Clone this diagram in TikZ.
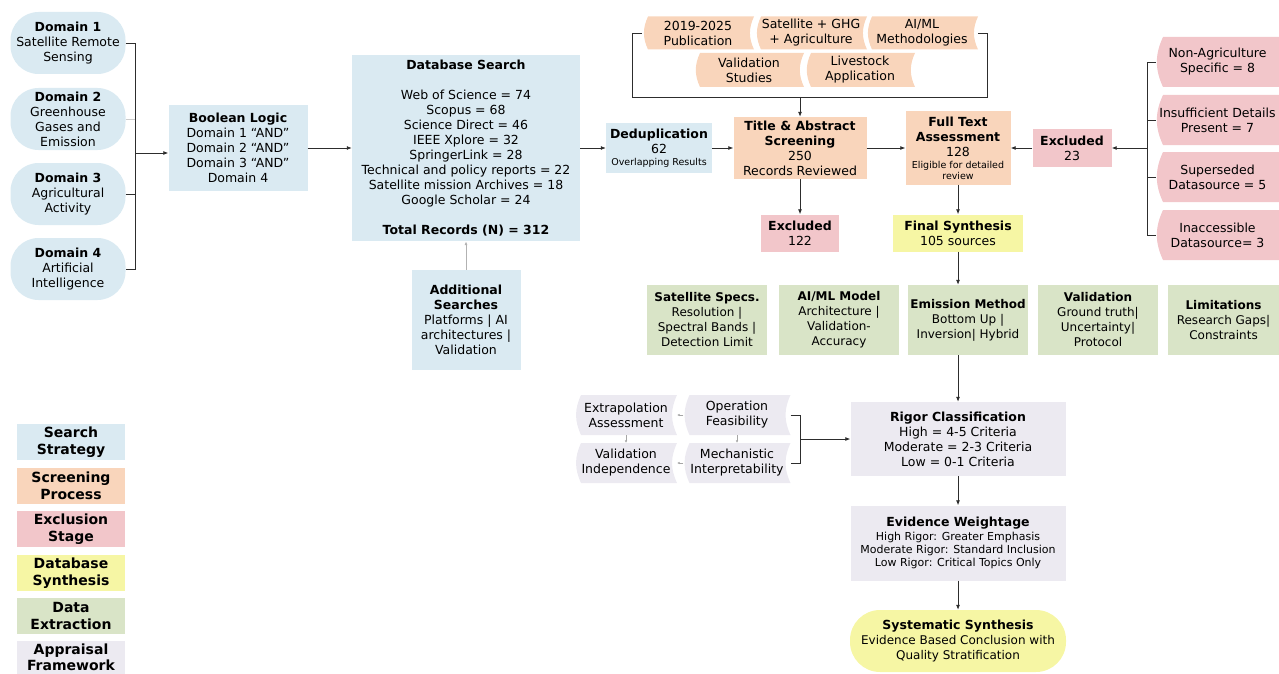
\documentclass[tikz,border=0pt]{standalone}
\usepackage{fontspec}
\setmainfont{DejaVu Sans}
\usetikzlibrary{arrows.meta,positioning,calc}

\definecolor{searchblue}{RGB}{218,234,242}
\definecolor{screenpeach}{RGB}{249,213,187}
\definecolor{exclpink}{RGB}{242,198,202}
\definecolor{synthyellow}{RGB}{246,246,164}
\definecolor{extractgreen}{RGB}{217,228,199}
\definecolor{appraisalgray}{RGB}{236,234,241}
\definecolor{linegray}{RGB}{45,45,45}

\newcommand{\fbody}{\fontsize{12.5}{15}\selectfont}
\newcommand{\fsmall}{\fontsize{9.5}{11}\selectfont}
\newcommand{\fmid}{\fontsize{11}{13}\selectfont}
\newcommand{\fgreen}{\fontsize{12}{15}\selectfont}
\newcommand{\flegend}{\fontsize{14}{16.5}\selectfont\bfseries}

\tikzset{
	box/.style={rectangle, align=center, inner sep=1pt, font=\fbody},
	domainbox/.style={box, fill=searchblue, rounded corners=28pt, minimum width=115pt, minimum height=62pt},
	legendbox/.style={box, font=\flegend, minimum width=108pt, minimum height=36pt},
	greenbox/.style={box, fill=extractgreen, font=\fgreen, minimum width=120pt, minimum height=70pt},
	flow/.style={draw=linegray, line width=0.8pt},
	flowarrow/.style={flow, -{Latex[length=5pt,width=4pt]}},
	tinyarrow/.style={draw=gray!70, line width=0.5pt, -{Latex[length=2.5pt,width=2.5pt]}},
	% curved tape shapes
	tapebox/.style={box, path picture={
		\fill[#1] ([xshift=6pt]path picture bounding box.north west)
		to[bend right=25] ([xshift=6pt]path picture bounding box.south west)
		-- (path picture bounding box.south east)
		to[bend left=25] (path picture bounding box.north east) -- cycle;}},
	tapecut/.style={box, path picture={
		\fill[#1] ([xshift=7pt]path picture bounding box.north west)
		to[bend right=25] ([xshift=7pt]path picture bounding box.south west)
		-- (path picture bounding box.south east)
		-- (path picture bounding box.north east) -- cycle;}}
}

\begin{document}
\begin{tikzpicture}[x=1pt, y=-1pt]
	\useasboundingbox (0,0) rectangle (1279,674);
	
	% search domains
	\node[domainbox] (d1) at (68,43) {\textbf{Domain 1}\\Satellite Remote\\Sensing};
	\node[domainbox] (d2) at (68,119) {\textbf{Domain 2}\\Greenhouse\\Gases and\\Emission};
	\node[domainbox] (d3) at (68,194) {\textbf{Domain 3}\\Agricultural\\Activity};
	\node[domainbox] (d4) at (68,269) {\textbf{Domain 4}\\Artificial\\Intelligence};
	
	\node[box, fill=searchblue, minimum width=139pt, minimum height=86pt] (bool) at (238,148)
		{\textbf{Boolean Logic}\\Domain 1 “AND”\\Domain 2 “AND”\\Domain 3 “AND”\\Domain 4};
	
	\coordinate (join) at (135,153);
	\draw[flow] (d1.east) -| (join |- d4.east) -- (d4.east);
	\draw[flow] (d3.east) -- (join |- d3.east);
	\draw[draw=gray!40, line width=0.8pt] (d2.east) -- (join |- d2.east);
	\draw[flowarrow] (join) -- (join -| bool.west);
	
	% database search
	\node[box, fill=searchblue, minimum width=228pt, minimum height=186pt] (dbs) at (466,148)
		{\textbf{Database Search}\\[15pt]
		Web of Science = 74\\Scopus = 68\\Science Direct = 46\\IEEE Xplore = 32\\SpringerLink = 28\\
		Technical and policy reports = 22\\Satellite mission Archives = 18\\Google Scholar = 24\\[15pt]
		\textbf{Total Records (N) = 312}};
	\node[box, fill=searchblue, minimum width=109pt, minimum height=100pt] (addl) at (466,320)
		{\textbf{Additional}\\\textbf{Searches}\\Platforms | AI\\architectures |\\Validation};
	
	\draw[flowarrow] (bool.east) -- (dbs.west);
	\draw[draw=gray!60, line width=0.8pt, -{Latex[length=4pt,width=3pt]}] (addl.north) -- (dbs.south);
	
	% screening
	\node[box, fill=searchblue, minimum width=106pt, minimum height=50pt] (dedup) at (659,148)
		{\textbf{Deduplication}\\62\\[-3pt]{\fsmall Overlapping Results}};
	\node[box, fill=screenpeach, minimum width=133pt, minimum height=62pt] (ta) at (800,148)
		{\textbf{Title \& Abstract}\\\textbf{Screening}\\250\\Records Reviewed};
	\node[box, fill=screenpeach, minimum width=105pt, minimum height=73pt] (ft) at (958,148)
		{\textbf{Full Text}\\\textbf{Assessment}\\128\\[-3pt]{\fsmall Eligible for detailed}\\[-4pt]{\fsmall review}};
	
	\draw[flowarrow] (dbs.east) -- (dedup.west);
	\draw[flowarrow] (dedup.east) -- (ta.west);
	\draw[flowarrow] (ta.east) -- (ft.west);
	
	% screening criteria
	\node[tapebox=screenpeach, minimum width=112pt, minimum height=33pt] (t1) at (698,33) {2019-2025\\Publication};
	\node[tapebox=screenpeach, minimum width=112pt, minimum height=33pt] (t2) at (811,33) {Satellite + GHG\\+ Agriculture};
	\node[tapebox=screenpeach, minimum width=112pt, minimum height=33pt] (t3) at (922,33) {AI/ML\\Methodologies};
	\node[tapebox=screenpeach, minimum width=110pt, minimum height=34pt] (t4) at (749,70) {Validation\\Studies};
	\node[tapebox=screenpeach, minimum width=110pt, minimum height=34pt] (t5) at (860,70) {Livestock\\Application};
	
	\coordinate (tl) at (632,97);
	\coordinate (tr) at (987,97);
	\draw[flow] (t1.west) -| (tl) -- (tr) |- (t3.east);
	\draw[flowarrow] (ta.north |- tl) -- (ta.north);
	
	% exclusions
	\node[box, fill=exclpink, minimum width=78pt, minimum height=37pt] (excl122) at (800,233) {\textbf{Excluded}\\122};
	\node[box, fill=exclpink, minimum width=79pt, minimum height=37pt] (excl23) at (1072,148) {\textbf{Excluded}\\23};
	\node[box, fill=synthyellow, minimum width=130pt, minimum height=37pt] (fs) at (958,233) {\textbf{Final Synthesis}\\105 sources};
	
	\draw[flowarrow] (ta.south) -- (excl122.north);
	\draw[flowarrow] (ft.south) -- (fs.north);
	\draw[flowarrow] (excl23.west) -- (ft.east);
	
	\node[tapecut=exclpink, minimum width=123pt, minimum height=50pt] (r1) at (1217.5,62) {Non-Agriculture\\Specific = 8};
	\node[tapecut=exclpink, minimum width=123pt, minimum height=50pt] (r2) at (1217.5,120) {Insufficient Details\\Present = 7};
	\node[tapecut=exclpink, minimum width=123pt, minimum height=50pt] (r3) at (1217.5,177) {Superseded\\Datasource = 5};
	\node[tapecut=exclpink, minimum width=123pt, minimum height=50pt] (r4) at (1217.5,235) {Inaccessible\\Datasource= 3};
	
	\coordinate (rj) at (1147,148);
	\draw[flow] (r1.west) -- (rj |- r1.west) -- (rj |- r4.west) -- (r4.west);
	\draw[flow] (r2.west) -- (rj |- r2.west);
	\draw[flow] (r3.west) -- (rj |- r3.west);
	\draw[flowarrow] (rj) -- (excl23.east);
	
	% data extraction
	\node[greenbox] (g1) at (707,320) {\textbf{Satellite Specs.}\\Resolution |\\Spectral Bands |\\Detection Limit};
	\node[greenbox] (g2) at (839,320) {\textbf{AI/ML Model}\\Architecture |\\Validation-\\Accuracy};
	\node[greenbox] (g3) at (968,320) {\textbf{Emission Method}\\Bottom Up |\\Inversion| Hybrid};
	\node[greenbox] (g4) at (1098,320) {\textbf{Validation}\\Ground truth|\\Uncertainty|\\Protocol};
	\node[greenbox, minimum width=111pt] (g5) at (1223.5,320) {\textbf{Limitations}\\Research Gaps|\\Constraints};
	
	\draw[flowarrow] (fs.south) -- (fs.south |- g3.north);
	
	% appraisal
	\node[box, fill=appraisalgray, minimum width=215pt, minimum height=74pt] (rig) at (958,439)
		{\textbf{Rigor Classification}\\High = 4-5 Criteria\\Moderate = 2-3 Criteria\\Low = 0-1 Criteria};
	\node[box, fill=appraisalgray, minimum width=215pt, minimum height=75pt] (evw) at (958,543)
		{\textbf{Evidence Weightage}\\[-1pt]{\fmid High Rigor: Greater Emphasis}\\[-2pt]{\fmid Moderate Rigor: Standard Inclusion}\\[-2pt]{\fmid Low Rigor: Critical Topics Only}};
	\node[box, fill=synthyellow, rounded corners=30pt, minimum width=216pt, minimum height=62pt] (sys) at (958,641)
		{\textbf{Systematic Synthesis}\\{\fontsize{12}{15}\selectfont Evidence Based Conclusion with}\\{\fontsize{12}{15}\selectfont Quality Stratification}};
	
	\draw[flowarrow] (g3.south -| rig.north) -- (rig.north);
	\draw[flowarrow] (rig.south) -- (evw.north);
	\draw[flowarrow] (evw.south) -- (sys.north);
	
	\node[tapebox=appraisalgray, minimum width=102pt, minimum height=40pt] (a1) at (626,415) {Extrapolation\\Assessment};
	\node[tapebox=appraisalgray, minimum width=107pt, minimum height=40pt] (a2) at (737,415) {Operation\\Feasibility};
	\node[tapebox=appraisalgray, minimum width=102pt, minimum height=40pt] (a3) at (626,463) {Validation\\Independence};
	\node[tapebox=appraisalgray, minimum width=107pt, minimum height=40pt] (a4) at (737,463) {Mechanistic\\Interpretability};
	
	\draw[tinyarrow] (a2.west) -- (a1.east);
	\draw[tinyarrow] (a4.west) -- (a3.east);
	\draw[tinyarrow] (a1.south) -- (a3.north);
	\draw[tinyarrow] (a2.south) -- (a4.north);
	
	\coordinate (aj) at (800,439);
	\draw[flow] (a2.east) -| (aj) |- (a4.east);
	\draw[flowarrow] (aj) -- (rig.west);
	
	% legend
	\node[legendbox, fill=searchblue] (l1) at (71,442) {Search\\Strategy};
	\node[legendbox, fill=screenpeach] (l2) at (71,486) {Screening\\Process};
	\node[legendbox, fill=exclpink] (l3) at (71,529) {Exclusion\\Stage};
	\node[legendbox, fill=synthyellow] (l4) at (71,573) {Database\\Synthesis};
	\node[legendbox, fill=extractgreen] (l5) at (71,616) {Data\\Extraction};
	\node[legendbox, fill=appraisalgray, minimum height=33pt] (l6) at (71,657.5) {Appraisal\\Framework};
\end{tikzpicture}
\end{document}
